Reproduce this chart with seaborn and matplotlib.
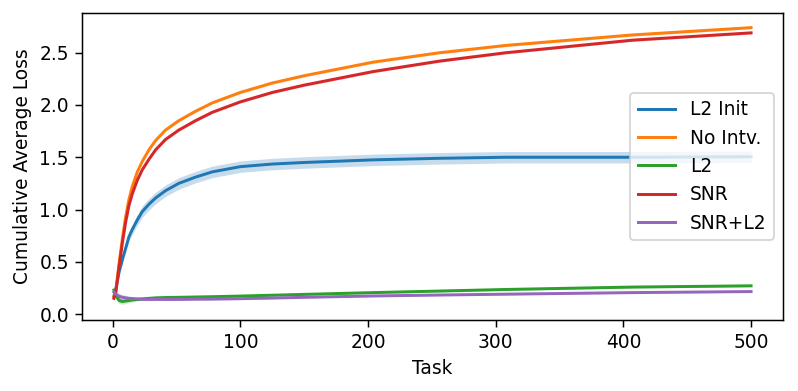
import matplotlib
matplotlib.use("Agg")
import matplotlib.pyplot as plt
import seaborn as sns
import numpy as np

tasks = [1, 2.4, 5, 7.6, 10.2, 12.8, 15.4, 19.3, 23.2, 28.4, 33.6, 41.4, 51.8, 64.9, 78, 100, 125, 150, 204, 256, 308, 407, 500]

l2_init = [0.17, 0.23, 0.40, 0.52, 0.63, 0.74, 0.81, 0.90, 0.98, 1.05, 1.11, 1.18, 1.25, 1.31, 1.36, 1.41, 1.435, 1.45, 1.475, 1.49, 1.50, 1.50, 1.505]
l2_init_ci = [0.01, 0.015, 0.025, 0.03, 0.035, 0.04, 0.045, 0.05, 0.055, 0.055, 0.055, 0.055, 0.055, 0.055, 0.055, 0.055, 0.055, 0.055, 0.055, 0.055, 0.055, 0.055, 0.055]

no_intv = [0.17, 0.22, 0.48, 0.72, 0.93, 1.10, 1.22, 1.36, 1.46, 1.57, 1.66, 1.76, 1.85, 1.94, 2.02, 2.12, 2.21, 2.28, 2.41, 2.50, 2.57, 2.67, 2.74]
no_intv_ci = [0.012] * 23

l2 = [0.23, 0.18, 0.13, 0.12, 0.125, 0.13, 0.135, 0.14, 0.145, 0.15, 0.155, 0.158, 0.16, 0.163, 0.166, 0.172, 0.18, 0.188, 0.205, 0.22, 0.235, 0.258, 0.27]
l2_ci = [0.03, 0.03, 0.03, 0.025, 0.025, 0.02, 0.02, 0.015, 0.015, 0.012, 0.01, 0.01, 0.01, 0.008, 0.008, 0.008, 0.008, 0.008, 0.008, 0.008, 0.008, 0.008, 0.008]

snr = [0.15, 0.20, 0.45, 0.68, 0.88, 1.04, 1.15, 1.28, 1.38, 1.48, 1.57, 1.67, 1.76, 1.85, 1.93, 2.03, 2.12, 2.19, 2.32, 2.42, 2.50, 2.62, 2.69]
snr_ci = [0.012] * 23

snr_l2 = [0.21, 0.19, 0.17, 0.16, 0.155, 0.15, 0.148, 0.145, 0.142, 0.14, 0.14, 0.14, 0.14, 0.142, 0.143, 0.147, 0.153, 0.16, 0.173, 0.182, 0.19, 0.205, 0.215]
snr_l2_ci = [0.03, 0.03, 0.03, 0.025, 0.025, 0.02, 0.02, 0.015, 0.015, 0.012, 0.01, 0.01, 0.01, 0.008, 0.008, 0.008, 0.006, 0.006, 0.006, 0.006, 0.006, 0.006, 0.006]

labels = ["L2 Init", "No Intv.", "L2", "SNR", "SNR+L2"]
series = [l2_init, no_intv, l2, snr, snr_l2]
cis = [l2_init_ci, no_intv_ci, l2_ci, snr_ci, snr_l2_ci]

plt.rcParams["font.family"] = ["DejaVu Sans"]
colors = sns.color_palette("tab10")

DPI = 134
fig, ax = plt.subplots(figsize=(798 / DPI, 391 / DPI), dpi=DPI)
fig.subplots_adjust(left=82 / 798, right=783 / 798, top=1 - 13 / 391, bottom=1 - 320 / 391)

x = np.array(tasks)
for i, (lab, ys, ci) in enumerate(zip(labels, series, cis)):
    ys = np.array(ys)
    ci = np.array(ci)
    ax.fill_between(x, ys - ci, ys + ci, color=colors[i], alpha=0.25, linewidth=0)
    sns.lineplot(x=x, y=ys, ax=ax, color=colors[i], label=lab, linewidth=1.6)

ax.set_xlim(-24, 525)
ax.set_ylim(-0.057, 2.88)
ax.set_xticks([0, 100, 200, 300, 400, 500])
ax.set_yticks([0.0, 0.5, 1.0, 1.5, 2.0, 2.5])
ax.set_xlabel("Task", fontsize=10)
ax.set_ylabel("Cumulative Average Loss", fontsize=10)
ax.tick_params(labelsize=10)
ax.legend(loc="center right", fontsize=10)
fig.savefig("out.png", dpi=DPI)
